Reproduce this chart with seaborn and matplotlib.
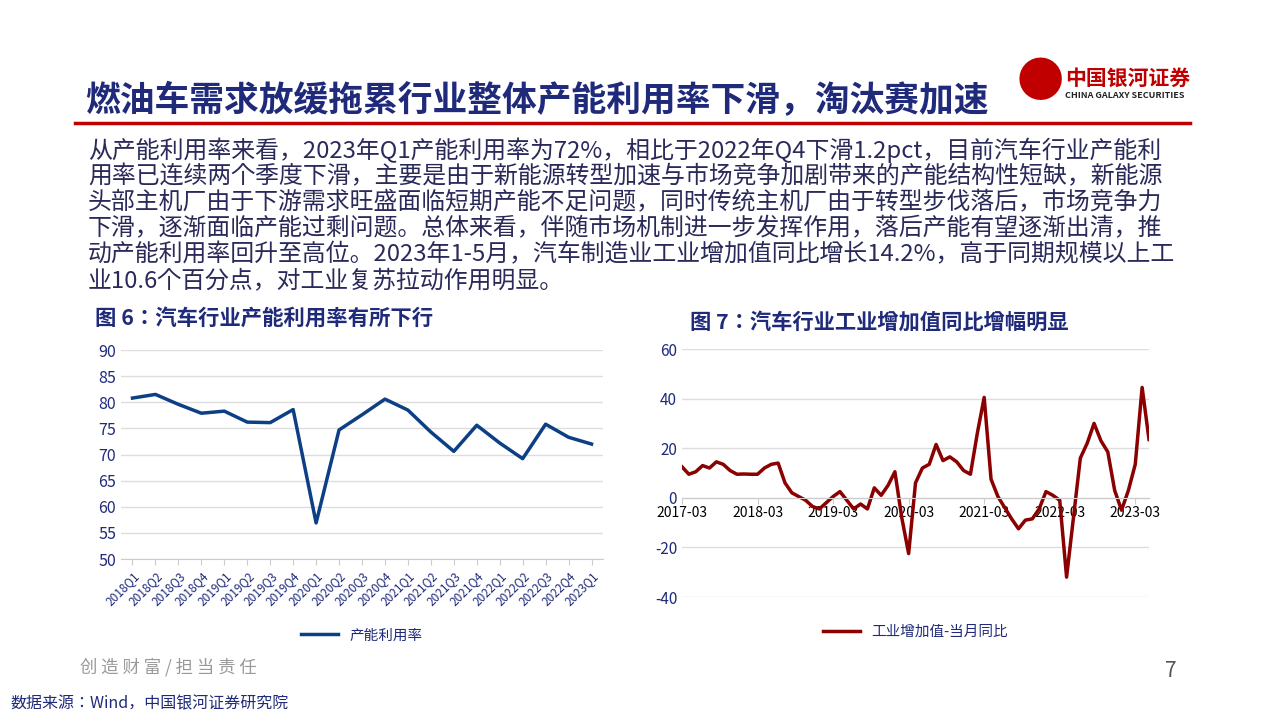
import matplotlib.pyplot as plt
import seaborn as sns
import pandas as pd
from matplotlib import font_manager

cjk = [f.name for f in font_manager.fontManager.ttflist if 'CJK' in f.name]
plt.rcParams['font.family'] = ['Noto Sans CJK SC', 'Noto Sans CJK JP'] + cjk[:1] + ['DejaVu Sans']
plt.rcParams['axes.unicode_minus'] = False

NAVY = '#1f2a7a'
BLUE = '#0d3f85'
RED = '#8b0000'

quarters = ['2018Q1', '2018Q2', '2018Q3', '2018Q4', '2019Q1', '2019Q2', '2019Q3', '2019Q4',
            '2020Q1', '2020Q2', '2020Q3', '2020Q4', '2021Q1', '2021Q2', '2021Q3', '2021Q4',
            '2022Q1', '2022Q2', '2022Q3', '2022Q4', '2023Q1']
util_rate = [80.8, 81.5, 79.6, 77.9, 78.3, 76.2, 76.1, 78.6, 56.9, 74.7, 77.6, 80.6,
             78.5, 74.3, 70.6, 75.6, 72.2, 69.2, 75.8, 73.3, 72.0]

# monthly, January merged into February (Wind convention)
months = (['2017-%02d' % m for m in range(3, 13)]
          + ['%d-%02d' % (y, m) for y in range(2018, 2023) for m in range(2, 13)]
          + ['2023-%02d' % m for m in range(2, 6)])
va_yoy = [12.5, 9.5, 10.5, 13, 12, 14.5, 13.5, 11, 9.5, 9.6,
          9.5, 9.5, 12, 13.5, 14, 6, 2, 0.5, -1, -3.5, -4.5,
          -2, 0.5, 2.5, -1, -4.5, -2.5, -4.5, 4, 1, 5, 10.5,
          -8, -22.5, 6, 12, 13.5, 21.5, 15, 16.5, 14.5, 11, 9.5,
          26, 40.5, 7.5, 0.5, -4, -8.5, -12.5, -9, -8.5, -4.5, 2.5,
          1, -1, -32, -8, 16, 22, 30, 23, 18.5, 3, -5,
          3, 13.5, 44.5, 23.5]

fig = plt.figure(figsize=(12.8, 7.2), dpi=100)
fig.patch.set_facecolor('white')

# header
fig.text(85/1280, 1 - 100/720, '燃油车需求放缓拖累行业整体产能利用率下滑，淘汰赛加速',
         fontsize=25, fontweight='bold', color=NAVY, va='center')
fig.add_artist(plt.Line2D([75/1280, 1190/1280], [1 - 123/720] * 2, color='#c00000', lw=2.5))
fig.text(1065/1280, 1 - 78/720, '中国银河证券', fontsize=15, fontweight='bold', color='#c00000', va='center')
fig.text(1065/1280, 1 - 95/720, 'CHINA GALAXY SECURITIES', fontsize=6.5, fontweight='bold', color='#222222', va='center')
fig.text(1040/1280, 1 - 84/720, '●', fontsize=34, color='#c00000', ha='center', va='center')

para = ['从产能利用率来看，2023年Q1产能利用率为72%，相比于2022年Q4下滑1.2pct，目前汽车行业产能利',
        '用率已连续两个季度下滑，主要是由于新能源转型加速与市场竞争加剧带来的产能结构性短缺，新能源',
        '头部主机厂由于下游需求旺盛面临短期产能不足问题，同时传统主机厂由于转型步伐落后，市场竞争力',
        '下滑，逐渐面临产能过剩问题。总体来看，伴随市场机制进一步发挥作用，落后产能有望逐渐出清，推',
        '动产能利用率回升至高位。2023年1-5月，汽车制造业工业增加值同比增长14.2%，高于同期规模以上工',
        '业10.6个百分点，对工业复苏拉动作用明显。']
for i, line in enumerate(para):
    fig.text(88/1280, 1 - (150 + 26.2 * i)/720, line, fontsize=17.2, color='#2a2a5a', va='center')

fig.text(95/1280, 1 - 318/720, '图 6：汽车行业产能利用率有所下行', fontsize=15.4, fontweight='bold', color=NAVY, va='center')
fig.text(690/1280, 1 - 322/720, '图 7：汽车行业工业增加值同比增幅明显', fontsize=15.3, fontweight='bold', color=NAVY, va='center')

# left chart
ax1 = fig.add_axes([121/1280, 1 - 559/720, 482/1280, 209/720])
df1 = pd.DataFrame({'q': quarters, 'v': util_rate})
sns.lineplot(data=df1, x='q', y='v', ax=ax1, color=BLUE, lw=2.5, label='产能利用率', sort=False)
ax1.set_ylim(50, 90)
ax1.set_yticks(range(50, 91, 5))
ax1.set_xlim(-0.5, len(quarters) - 0.5)
ax1.set_xticks(range(len(quarters)))
ax1.set_xticklabels(quarters, rotation=45, ha='right', rotation_mode='anchor', fontsize=8.5, color=NAVY)
ax1.set_xlabel('')
ax1.set_ylabel('')
ax1.tick_params(axis='y', labelsize=11.5, labelcolor=NAVY, length=0)
ax1.tick_params(axis='x', length=4, color='#cccccc')
ax1.grid(axis='y', color='#dddddd', lw=1)
for s in ['top', 'right', 'left']:
    ax1.spines[s].set_visible(False)
ax1.spines['bottom'].set_color('#cccccc')
ax1.legend(loc='upper center', bbox_to_anchor=(0.5, -0.27), frameon=False, fontsize=10.5,
           labelcolor=NAVY, handlelength=2.5)

# right chart
ax2 = fig.add_axes([682/1280, 1 - 597/720, 467/1280, 248/720])
df2 = pd.DataFrame({'m': months, 'v': va_yoy})
sns.lineplot(data=df2, x='m', y='v', ax=ax2, color=RED, lw=2.5, label='工业增加值-当月同比', sort=False)
ax2.set_ylim(-40, 60)
ax2.set_yticks(range(-40, 61, 20))
ax2.set_xlim(0, len(months) - 1)
tick_idx = [i for i, m in enumerate(months) if m.endswith('-03')]
ax2.set_xticks(tick_idx)
ax2.set_xticklabels([months[i] for i in tick_idx], fontsize=8, color=NAVY)
ax2.spines['bottom'].set_position(('data', 0))
ax2.set_xlabel('')
ax2.set_ylabel('')
ax2.tick_params(axis='y', labelsize=11, labelcolor=NAVY, length=0)
ax2.tick_params(axis='x', length=4, color='#cccccc', pad=2)
ax2.grid(axis='y', color='#dddddd', lw=1)
for s in ['top', 'right', 'left']:
    ax2.spines[s].set_visible(False)
ax2.spines['bottom'].set_color('#cccccc')
ax2.legend(loc='upper center', bbox_to_anchor=(0.5, -0.06), frameon=False, fontsize=10.5,
           labelcolor=NAVY, handlelength=2.5)

# footer
fig.text(80/1280, 1 - 667/720, '创 造 财 富 / 担 当 责 任', fontsize=12.5, color='#999999', va='center')
fig.text(1165/1280, 1 - 671/720, '7', fontsize=15, color='#555555', va='center')
fig.text(10/1280, 1 - 704/720, '数据来源：Wind，中国银河证券研究院', fontsize=11.5, color=NAVY, va='center')

plt.savefig('out.png', dpi=100)
